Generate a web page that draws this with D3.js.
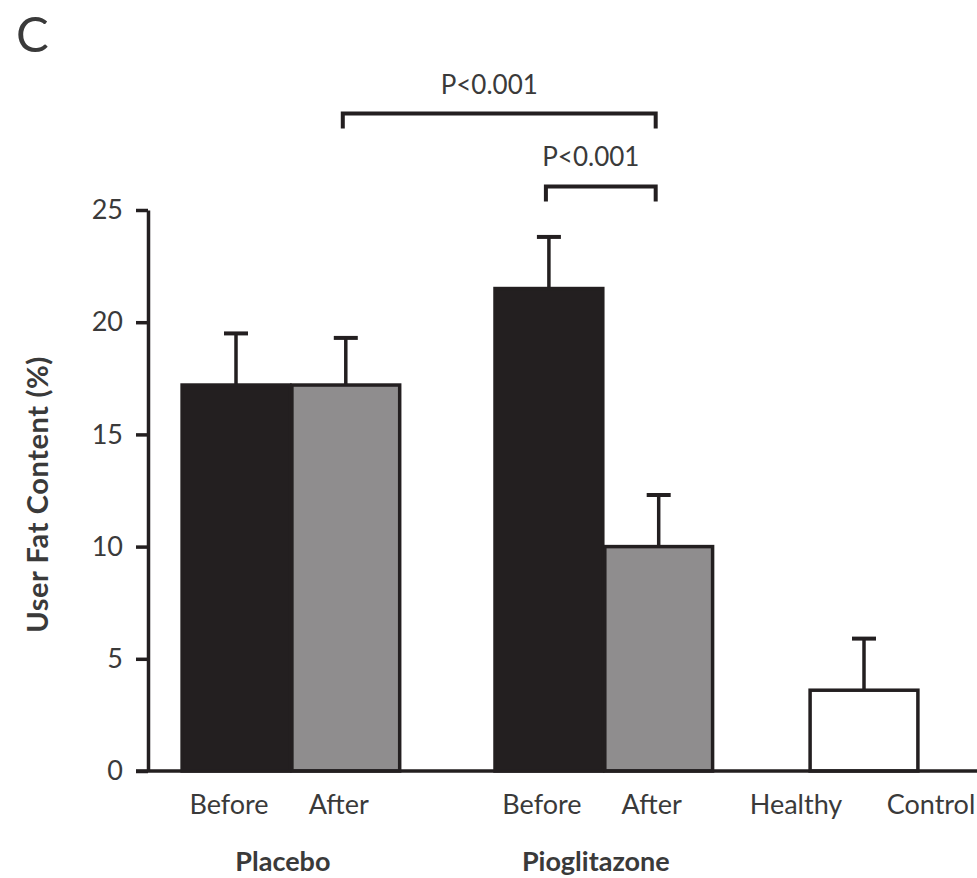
<!DOCTYPE html>
<html>
<head>
<meta charset="utf-8">
<script src="https://cdn.jsdelivr.net/npm/d3@7"></script>
<style>
  html, body { margin: 0; padding: 0; background: #fff; }
  svg text { font-family: Lato, "Open Sans", sans-serif; fill: #3a3a3a; }
</style>
</head>
<body>
<svg id="chart" width="977" height="878"></svg>
<script>
// Liver fat content before/after treatment, mean with upper SD
const groups = ["Placebo", "Pioglitazone", "Healthy Control"];
const phases = ["Before", "After", "Before", "After", ""];
const barGroups = ["Placebo", "Placebo", "Pioglitazone", "Pioglitazone", "Healthy Control"];
const means = [17.2, 17.2, 21.5, 10.0, 3.6];
const errors = [2.3, 2.1, 2.3, 2.3, 2.3];
const yTicks = [0, 5, 10, 15, 20, 25];
const comparisons = [
  { from: 1, to: 3, label: "P<0.001" },
  { from: 2, to: 3, label: "P<0.001" }
];

const W = 977, H = 878;
const ink = "#231f20";
const fills = { Before: ink, After: "#8f8d8e", "": "#ffffff" };

const svg = d3.select("#chart");

// Layout: slot positions for each bar (groups separated by wider gaps)
const slotOf = [0, 1, 2.85, 3.85, 5.72];
const x = d3.scaleLinear().domain([0, 5.72]).range([236, 864]);
const slotW = x(1) - x(0);
const barW = slotW - 2;

const y = d3.scaleLinear().domain([0, 25]).range([771, 210]);

// Panel letter
svg.append("text").attr("x", 16).attr("y", 52)
  .style("font-size", "49px").text("C");

// Y axis
const yAxis = d3.axisLeft(y).tickValues(yTicks).tickSize(12).tickSizeOuter(0).tickPadding(13);
const ga = svg.append("g").attr("transform", "translate(148,0)").call(yAxis);
ga.select(".domain").attr("stroke", ink).attr("stroke-width", 3.5);
ga.selectAll(".tick line").attr("stroke", ink).attr("stroke-width", 3.5);
ga.selectAll(".tick text").style("font-size", "27px").style("font-family", "Lato, 'Open Sans', sans-serif").attr("fill", "#3a3a3a");

// Y axis title
svg.append("text")
  .attr("transform", `translate(48,${(y(0) + y(25)) / 2 + 4}) rotate(-90)`)
  .attr("text-anchor", "middle")
  .style("font-size", "29px").style("font-weight", "bold").style("letter-spacing", "0.6px")
  .text("User Fat Content (%)");

// Bars
const bars = means.map((m, i) => ({ m, e: errors[i], phase: phases[i], group: barGroups[i], cx: x(slotOf[i]) }));

// Error bars (drawn first so bars cover the stem base)
const eg = svg.append("g");
bars.forEach(d => {
  eg.append("line").attr("x1", d.cx).attr("x2", d.cx)
    .attr("y1", y(d.m)).attr("y2", y(d.m + d.e))
    .attr("stroke", ink).attr("stroke-width", 3.5);
  eg.append("line").attr("x1", d.cx - 12).attr("x2", d.cx + 12)
    .attr("y1", y(d.m + d.e)).attr("y2", y(d.m + d.e))
    .attr("stroke", ink).attr("stroke-width", 4);
});

svg.append("g").selectAll("rect").data(bars).join("rect")
  .attr("x", d => d.cx - barW / 2)
  .attr("width", barW)
  .attr("y", d => y(d.m))
  .attr("height", d => y(0) - y(d.m))
  .attr("fill", d => fills[d.phase])
  .attr("stroke", ink)
  .attr("stroke-width", 3.5);

// Baseline
svg.append("line").attr("x1", 136).attr("x2", W).attr("y1", y(0)).attr("y2", y(0))
  .attr("stroke", ink).attr("stroke-width", 3.5);

// Phase labels
bars.forEach(d => {
  if (d.phase) {
    svg.append("text").attr("x", d.cx - 7).attr("y", y(0) + 43)
      .attr("text-anchor", "middle").style("font-size", "27px").text(d.phase);
  }
});

// Group labels
const groupCenter = g => d3.mean(bars.filter(b => b.group === g), b => b.cx);
["Placebo", "Pioglitazone"].forEach(g => {
  svg.append("text").attr("x", groupCenter(g) - 8).attr("y", y(0) + 100)
    .attr("text-anchor", "middle").style("font-size", "27px").style("font-weight", "bold").text(g);
});
// Healthy control label, split across the bar
const hc = groupCenter("Healthy Control");
const hcWords = groups[2].split(" ");
svg.append("text").attr("x", hc - 68).attr("y", y(0) + 43)
  .attr("text-anchor", "middle").style("font-size", "27px").text(hcWords[0]);
svg.append("text").attr("x", hc + 67).attr("y", y(0) + 43)
  .attr("text-anchor", "middle").style("font-size", "27px").text(hcWords[1]);

// Significance brackets
const levels = [29.3, 26.05];
comparisons.forEach((c, i) => {
  const x1 = bars[c.from].cx - 3, x2 = bars[c.to].cx - 3;
  const yy = y(levels[i]);
  svg.append("path")
    .attr("d", `M${x1},${yy + 15}V${yy}H${x2}V${yy + 15}`)
    .attr("fill", "none").attr("stroke", ink).attr("stroke-width", 4);
  svg.append("text").attr("x", (x1 + x2) / 2 - 10).attr("y", yy - 20)
    .attr("text-anchor", "middle").style("font-size", "26px").text(c.label);
});
</script>
</body>
</html>
